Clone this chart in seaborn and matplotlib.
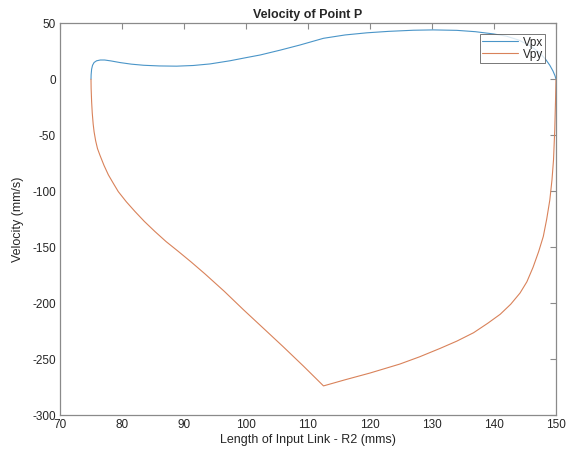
import pandas as pd
import seaborn as sns
import matplotlib.pyplot as plt

# values
vpx_len = [75.0, 75.02, 75.1, 75.25, 75.5, 75.9, 76.5, 77.2, 78.2, 79.7, 81.5, 83.5, 86.0,
           88.8, 91.5, 94.2, 97.4, 100.0, 102.3, 105.5, 108.7, 112.5, 116.0, 119.5, 123.0,
           127.0, 130.2, 134.0, 137.0, 139.9, 142.0, 144.0, 145.8, 147.2, 148.3, 149.0,
           149.5, 149.85, 150.0]
vpx_vel = [0, 4, 9, 12.5, 15, 16.5, 17.2, 17.2, 16.4, 14.9, 13.5, 12.5, 11.9,
           11.7, 12.3, 13.7, 16.5, 19.3, 21.7, 26, 30.6, 36.6, 39.6, 41.5, 42.8,
           43.8, 44.1, 43.7, 42.5, 40.5, 38.5, 35, 30, 24.5, 18, 12.5,
           7.5, 3, 0]

vpy_len = [75.0, 75.02, 75.1, 75.2, 75.35, 75.5, 75.75, 76.05, 76.45, 77.1, 77.8, 78.6,
           79.4, 80.7, 82.1, 83.6, 85.3, 87.1, 89.1, 91.2, 93.4, 96.5, 99.6, 103.0, 106.0,
           109.3, 112.5, 116.0, 120.0, 124.8, 128.0, 131.3, 134.0, 136.7, 139.0, 141.0,
           142.7, 144.2, 145.3, 146.3, 147.2, 147.95, 148.5, 149.0, 149.35, 149.6, 149.8,
           149.92, 150.0]
vpy_vel = [0, -8, -20, -30, -40, -47, -55, -62, -68, -77, -85.4, -93,
           -100.4, -109.5, -118.2, -127, -136, -145, -153.9, -163.5, -174, -189.5, -206, -223.5, -239,
           -256.5, -274, -268.5, -262.5, -254.5, -248, -240.5, -234, -226.5, -218, -210,
           -201, -191, -181, -168, -154, -140.5, -125, -108, -90, -72, -45,
           -20, 0]

df = pd.concat([
    pd.DataFrame({"len": vpx_len, "vel": vpx_vel, "series": "Vpx"}),
    pd.DataFrame({"len": vpy_len, "vel": vpy_vel, "series": "Vpy"}),
], ignore_index=True)

sns.set_style("white")
plt.rcParams["font.family"] = ["Liberation Sans", "DejaVu Sans"]
plt.rcParams["axes.unicode_minus"] = False
plt.rcParams["axes.edgecolor"] = "#8a8a8a"
plt.rcParams["axes.linewidth"] = 0.9

fig = plt.figure(figsize=(5.81, 4.5), dpi=100)
ax = fig.add_axes([60 / 581, 35 / 450, 496 / 581, 391.7 / 450])

sns.lineplot(data=df, x="len", y="vel", hue="series", sort=False, estimator=None,
             palette=["#4a95c8", "#d9825a"], linewidth=0.8, ax=ax)

ax.set_xlim(70, 150)
ax.set_ylim(-300, 50)
ax.set_xticks(range(70, 151, 10))
ax.set_yticks(range(-300, 51, 50))
ax.tick_params(direction="in", length=4, width=0.8, color="#8a8a8a",
               labelsize=8.5, labelcolor="#262626", top=True, right=True, pad=3)
ax.set_xlabel("Length of Input Link - R2 (mms)", fontsize=9, color="#262626", labelpad=2)
ax.set_ylabel("Velocity (mm/s)", fontsize=9, color="#262626", labelpad=6)
ax.set_title("Velocity of Point P", fontsize=9, fontweight="bold", pad=4)

leg = ax.legend(loc="upper right", bbox_to_anchor=(0.978, 0.972), borderaxespad=0,
                fontsize=8.5, frameon=True, fancybox=False, handlelength=3.0,
                borderpad=0.2, labelspacing=0.0, handletextpad=0.4)
leg.get_frame().set_edgecolor("#555555")
leg.get_frame().set_linewidth(0.7)

fig.savefig("out.png", dpi=100)
